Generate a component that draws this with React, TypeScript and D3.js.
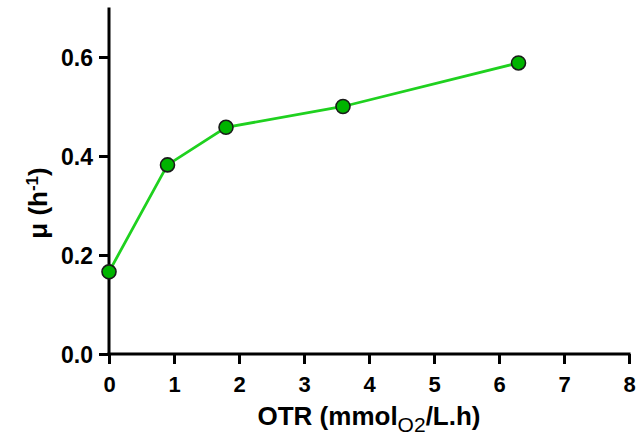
import { useRef, useEffect } from 'react';
import * as d3 from 'd3';

// OTR (mmol O2/L.h) values and growth rate mu (h-1)
const otr = [0, 0.9, 1.8, 3.6, 6.3];
const mu = [0.166, 0.382, 0.458, 0.5, 0.588];
const xTicks = [0, 1, 2, 3, 4, 5, 6, 7, 8];
const yTicks = [0, 0.2, 0.4, 0.6];

export default function App() {
    const svgRef = useRef<SVGSVGElement | null>(null);

    useEffect(() => {
        const svg = d3.select(svgRef.current);
        svg.selectAll('*').remove();

        const font = '"Liberation Sans", Arial, sans-serif';
        const x = d3.scaleLinear().domain([0, 8]).range([109, 629]);
        const y = d3.scaleLinear().domain([0, 0.7]).range([354, 7.5]);

        // x axis
        const xAxis = svg.append('g')
            .attr('transform', `translate(0, ${y(0)})`)
            .call(d3.axisBottom(x).tickValues(xTicks).tickFormat(d3.format('d')).tickSize(10).tickSizeOuter(0));
        xAxis.select('.domain').attr('stroke-width', 3).attr('d', `M${x(0) - 1.5},0H${x(8) + 1.5}`);
        xAxis.selectAll('.tick line').attr('stroke-width', 3);
        xAxis.selectAll('.tick text')
            .attr('y', 22)
            .style('font-family', font)
            .style('font-size', '22px')
            .style('font-weight', 'bold')
            .attr('fill', '#000');

        // y axis
        const yAxis = svg.append('g')
            .attr('transform', `translate(${x(0)}, 0)`)
            .call(d3.axisLeft(y).tickValues(yTicks).tickFormat(d3.format('.1f')).tickSize(10).tickSizeOuter(0));
        yAxis.select('.domain').attr('stroke-width', 3).attr('d', `M0,${y(0.7)}V${y(0) + 1.5}`);
        yAxis.selectAll('.tick line').attr('stroke-width', 3);
        yAxis.selectAll('.tick text')
            .attr('x', -16)
            .attr('dy', '0.36em')
            .style('font-family', font)
            .style('font-size', '23px')
            .style('font-weight', 'bold')
            .attr('fill', '#000');

        // line
        const pts = otr.map((d, i) => [d, mu[i]] as [number, number]);
        const line = d3.line<[number, number]>().x(d => x(d[0])).y(d => y(d[1]));
        svg.append('path')
            .datum(pts)
            .attr('d', line)
            .attr('fill', 'none')
            .attr('stroke', '#1fd11f')
            .attr('stroke-width', 2.8);

        // points
        svg.selectAll('.pt')
            .data(pts)
            .enter()
            .append('circle')
            .attr('class', 'pt')
            .attr('cx', d => x(d[0]))
            .attr('cy', d => y(d[1]))
            .attr('r', 7)
            .attr('fill', '#00b400')
            .attr('stroke', '#1a1a1a')
            .attr('stroke-width', 1.6);

        // x label
        const xl = svg.append('text')
            .attr('x', 369)
            .attr('y', 425)
            .attr('text-anchor', 'middle')
            .style('font-family', font)
            .style('font-size', '26px')
            .style('font-weight', 'bold');
        xl.append('tspan').text('OTR (mmol');
        xl.append('tspan').attr('dy', 7).style('font-size', '21px').style('font-weight', 'normal').text('O2');
        xl.append('tspan').attr('dy', -7).text('/L.h)');

        // y label
        const yl = svg.append('text')
            .attr('transform', `translate(47, 203) rotate(-90)`)
            .attr('text-anchor', 'middle')
            .style('font-family', font)
            .style('font-size', '26px')
            .style('font-weight', 'bold');
        yl.append('tspan').text('μ (h');
        yl.append('tspan').attr('dy', -9).style('font-size', '17px').text('-1');
        yl.append('tspan').attr('dy', 9).text(')');
    }, []);

    return (
        <svg ref={svgRef} width={638} height={442}
            style={{ position: 'absolute', left: 0, top: 0, background: '#fff' }} />
    );
}
